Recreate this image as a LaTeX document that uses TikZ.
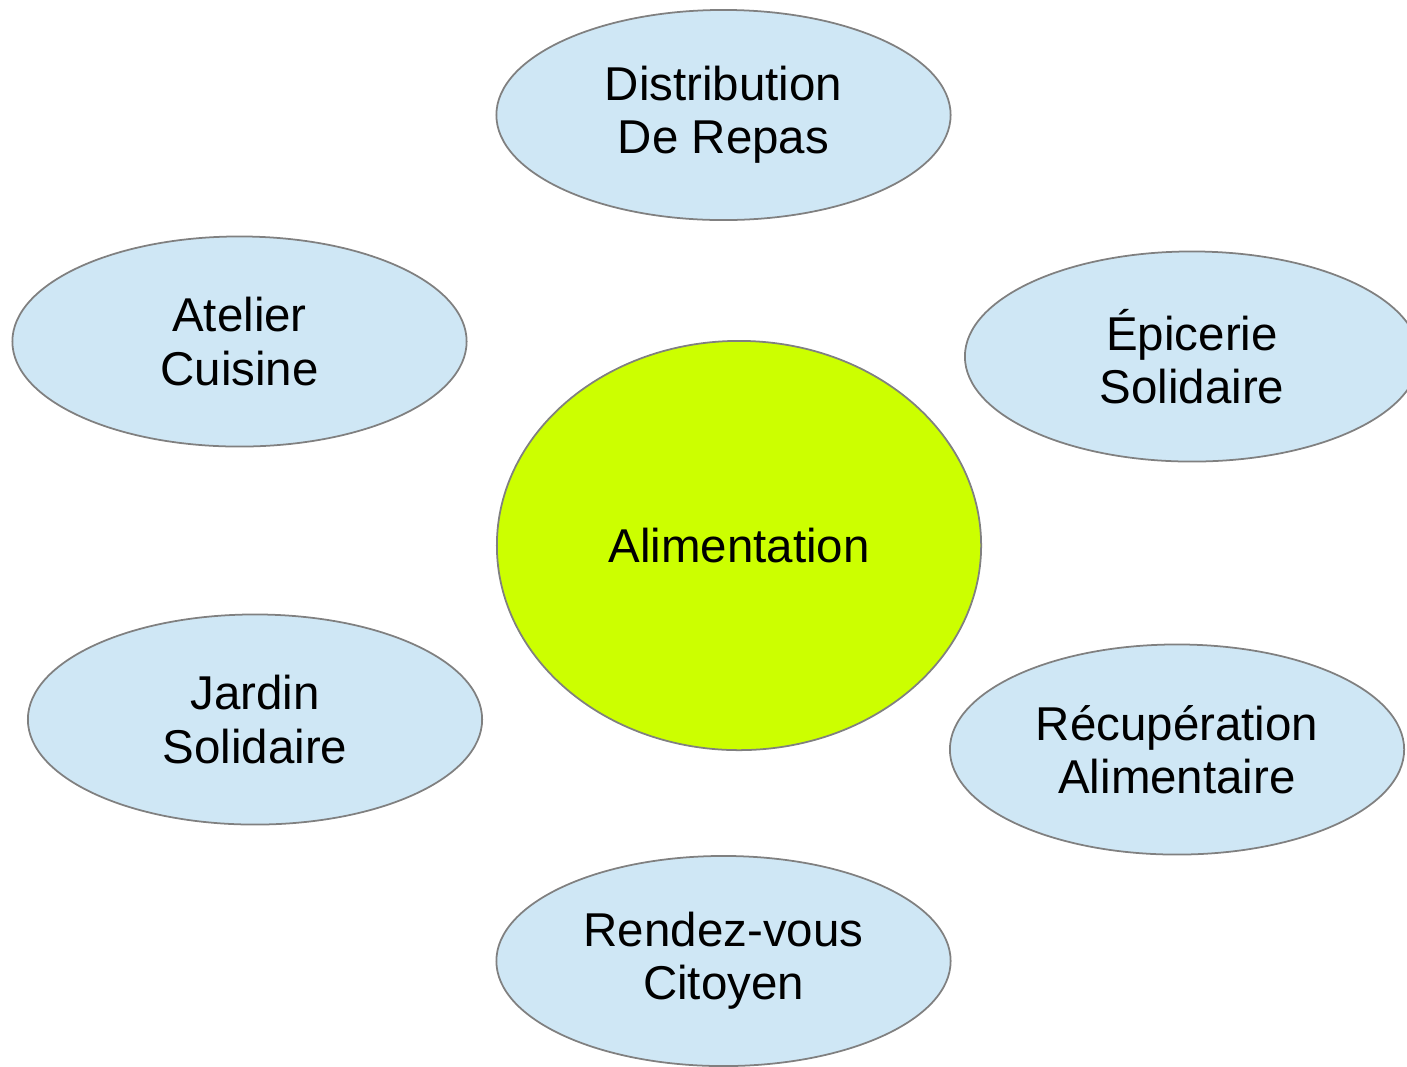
\documentclass[tikz,border=0pt]{standalone}
\usepackage{fontspec}
\setmainfont{Liberation Sans}
\usepackage{tikz}
\usetikzlibrary{shapes.geometric}
\definecolor{bubble}{HTML}{CFE7F5}
\definecolor{hub}{HTML}{CCFF00}
\definecolor{rim}{gray}{0.5}

\begin{document}
\begin{tikzpicture}[x=0.01cm, y=-0.01cm,
    bubblebox/.style={ellipse, draw=rim, line width=0.5pt, fill=bubble,
      inner sep=0pt, minimum width=4.54cm, minimum height=2.1cm,
      align=center, font=\fontsize{13.5}{15.1}\selectfont},
    hubbox/.style={bubblebox, fill=hub, minimum width=4.84cm, minimum height=4.09cm}]
    \useasboundingbox (0,0) rectangle (1407,1066);
    \clip (0,0) rectangle (1407,1066);
    \node[hubbox] (alim) at (739,545.5) {Alimentation};
    \node[bubblebox] (repas) at (723.5,115) {Distribution\\De Repas};
    \node[bubblebox] (atelier) at (239.5,341.5) {Atelier\\Cuisine};
    \node[bubblebox] (epicerie) at (1192,356.5) {Épicerie\\Solidaire};
    \node[bubblebox] (jardin) at (255,719.5) {Jardin\\Solidaire};
    \node[bubblebox] (recup) at (1177,749.5) {Récupération\\Alimentaire};
    \node[bubblebox] (rdv) at (723.5,961) {Rendez-vous\\Citoyen};
  \end{tikzpicture}
\end{document}
